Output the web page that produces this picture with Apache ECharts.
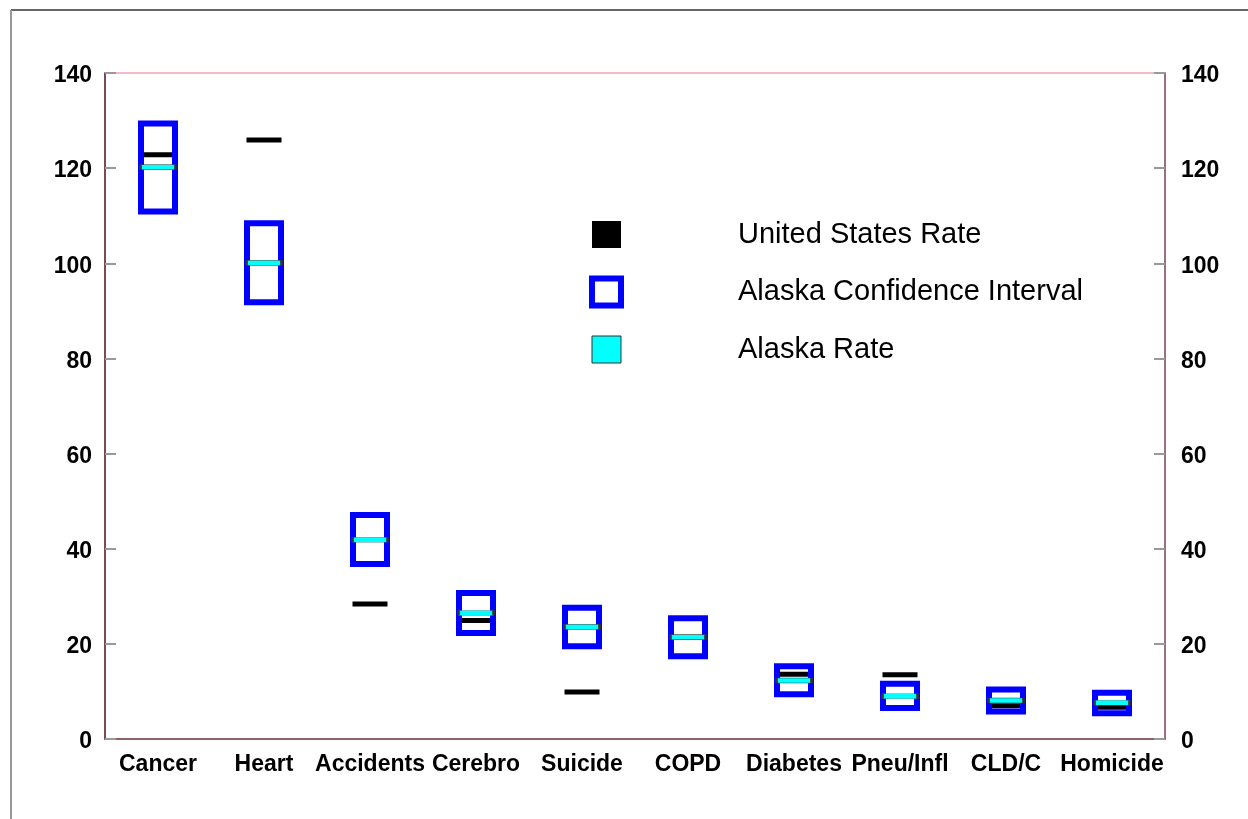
<!DOCTYPE html>
<html>
<head>
<meta charset="utf-8">
<script src="https://cdn.jsdelivr.net/npm/echarts@6/dist/echarts.min.js"></script>
<style>
html,body{margin:0;padding:0;background:#fff;}
#chart{width:1248px;height:819px;}
</style>
</head>
<body>
<div id="chart"></div>
<script>
const categories = ['Cancer','Heart','Accidents','Cerebro','Suicide','COPD','Diabetes','Pneu/Infl','CLD/C','Homicide'];
const usRate = [122.8, 125.9, 28.4, 24.9, 9.9, 21.4, 13.6, 13.5, 7.0, 6.7];
const akRate = [120.2, 100.1, 41.9, 26.5, 23.6, 21.4, 12.3, 9.0, 8.1, 7.6];
const ciLow  = [110.9, 91.8, 36.8, 22.3, 19.5, 17.4, 9.4, 6.5, 5.8, 5.4];
const ciHigh = [129.4, 108.4, 47.1, 30.7, 27.6, 25.4, 15.3, 11.6, 10.4, 9.7];
const yTicks = [0, 20, 40, 60, 80, 100, 120, 140];

const FONT = '"Liberation Sans", Arial, Helvetica, sans-serif';
const chart = echarts.init(document.getElementById('chart'), null, {renderer:'canvas'});

const yAxisCommon = {
  type: 'value', min: yTicks[0], max: yTicks[yTicks.length-1], interval: 20,
  splitLine: {show:false},
  axisTick: {show:true, inside:true, length:11, lineStyle:{color:'#999', width:2}},
  axisLabel: {
    color:'#000', fontSize:23, fontWeight:'bold', fontFamily:FONT,
    formatter: '{a|{value}}',
    rich: {a: {color:'#000', fontSize:23, fontWeight:'bold', fontFamily:FONT, padding:[6,0,0,0]}}
  }
};

chart.setOption({
  animation: false,
  backgroundColor: '#fff',
  graphic: [
    {type:'line', shape:{x1:11, y1:10, x2:1248, y2:10}, style:{stroke:'#333', lineWidth:1.5}, z:100},
    {type:'line', shape:{x1:11, y1:10, x2:11, y2:819}, style:{stroke:'#999', lineWidth:2}, z:100}
  ],
  grid: {left:105, right:83, top:73, bottom:80, show:true, borderColor:'#f4a0b4', borderWidth:1.5, backgroundColor:'transparent'},
  legend: {
    orient:'vertical', left:589, top:220, padding:0, selectedMode:false,
    itemWidth:29, itemHeight:27, itemGap:26.5,
    textStyle:{fontSize:29, fontFamily:FONT, color:'#000', lineHeight:29, padding:[0,0,0,112]},
    data: [
      {name:'United States Rate', icon:'rect', itemStyle:{color:'#000', borderWidth:0, opacity:1}},
      {name:'Alaska Confidence Interval', icon:'rect', itemStyle:{color:'#fff', borderColor:'#0000ff', borderWidth:6, opacity:1}},
      {name:'Alaska Rate', icon:'rect', itemStyle:{color:'#00ffff', borderColor:'#333', borderWidth:1, opacity:1}}
    ]
  },
  xAxis: {
    type:'category', data:categories, boundaryGap:true,
    axisLine:{show:true, lineStyle:{color:'#6b4848', width:1.5}},
    axisTick:{show:false},
    axisLabel:{color:'#000', fontSize:23, fontWeight:'bold', fontFamily:FONT, margin:14, interval:0}
  },
  yAxis: [
    Object.assign({}, yAxisCommon, {position:'left', axisLine:{show:true, lineStyle:{color:'#502828', width:1.5}},
      axisLabel:Object.assign({}, yAxisCommon.axisLabel, {margin:13})}),
    Object.assign({}, yAxisCommon, {position:'right', axisLine:{show:true, lineStyle:{color:'#7a5a6a', width:1.5}},
      axisLabel:Object.assign({}, yAxisCommon.axisLabel, {margin:16})})
  ],
  series: [
    {
      name:'United States Rate', type:'scatter', yAxisIndex:0, z:2,
      symbol:'rect', symbolSize:[35,5],
      itemStyle:{color:'#000', opacity:1},
      emphasis:{disabled:true},
      data: usRate.map((v,i)=>[i,v])
    },
    {
      name:'Alaska Confidence Interval', type:'custom', yAxisIndex:0, z:3,
      itemStyle:{color:'#fff', borderColor:'#0000ff', borderWidth:6, opacity:1},
      encode:{x:0, y:[1,2]},
      renderItem: function(params, api){
        const x = api.value(0);
        const lo = api.coord([x, api.value(1)]);
        const hi = api.coord([x, api.value(2)]);
        const w = 34;
        return {
          type:'rect',
          shape:{x: lo[0]-w/2, y: hi[1], width: w, height: lo[1]-hi[1]},
          style:{fill:'none', stroke:'#0000ff', lineWidth:6}
        };
      },
      data: ciLow.map((v,i)=>[i, v, ciHigh[i]])
    },
    {
      name:'Alaska Rate', type:'scatter', yAxisIndex:0, z:4,
      symbol:'rect', symbolSize:[35,5],
      itemStyle:{color:'#00ffff', borderColor:'#333', borderWidth:1, opacity:1},
      emphasis:{disabled:true},
      data: akRate.map((v,i)=>[i,v])
    }
  ]
});
</script>
</body>
</html>
